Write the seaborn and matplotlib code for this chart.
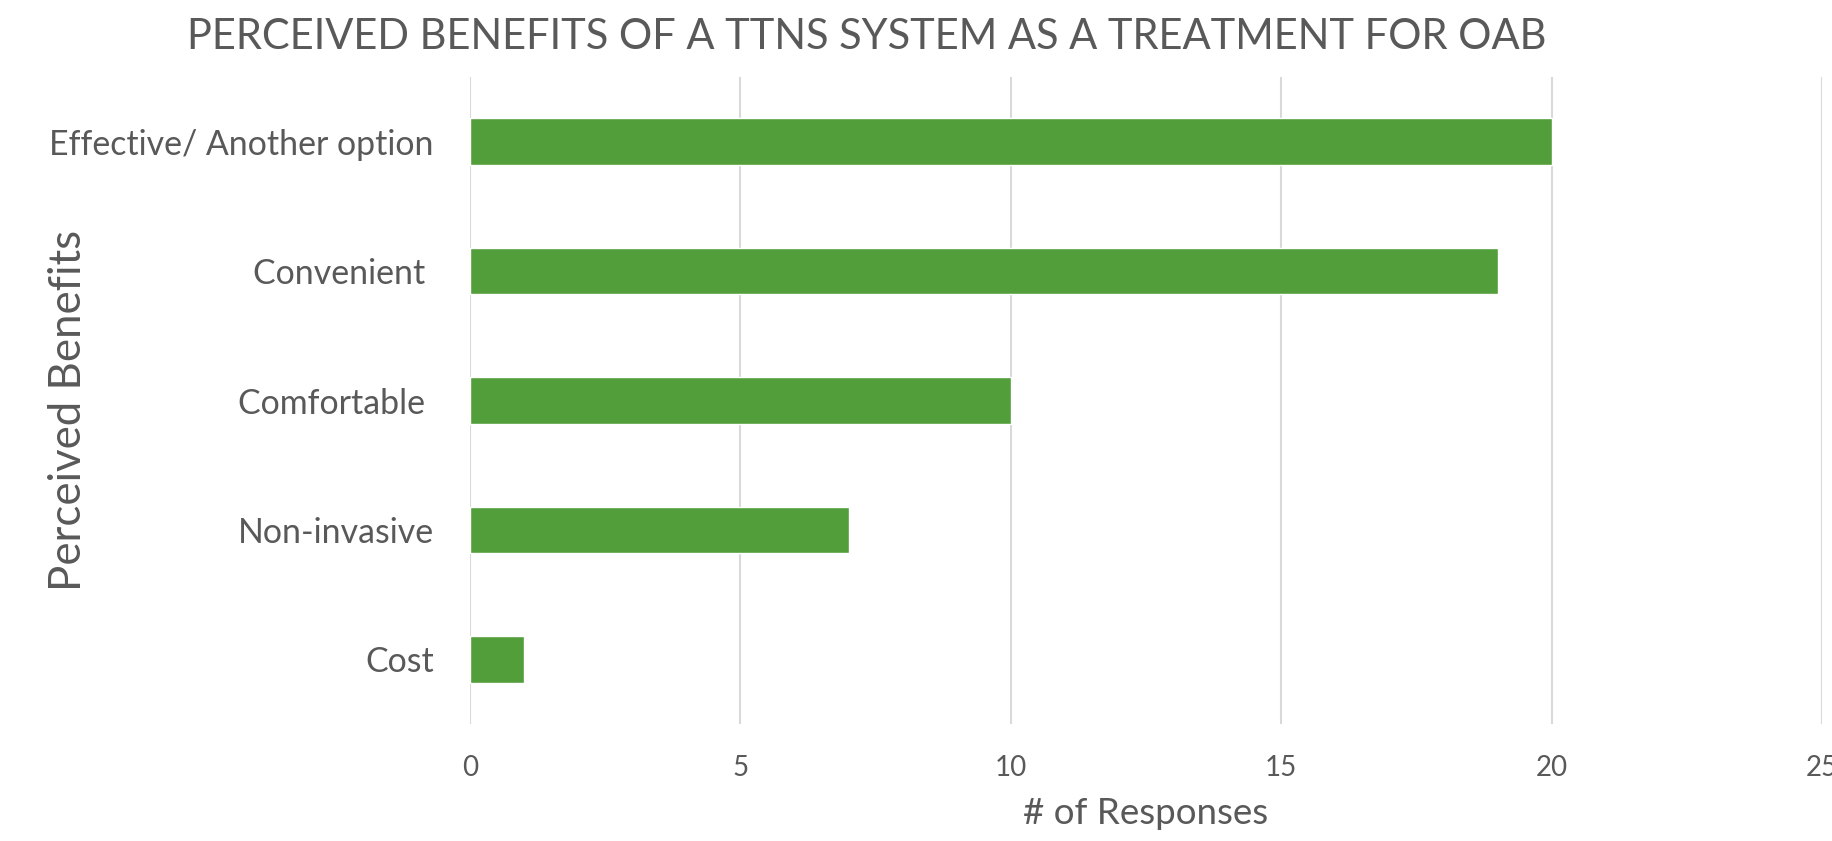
import matplotlib
matplotlib.use("Agg")
import matplotlib.pyplot as plt
import seaborn as sns
import pandas as pd

categories = ["Effective/ Another option", "Convenient ", "Comfortable ", "Non-invasive", "Cost"]
responses = [20, 19, 10, 7, 1]
x_ticks = [0, 5, 10, 15, 20, 25]

title = "PERCEIVED BENEFITS OF A TTNS SYSTEM AS A TREATMENT FOR OAB"
x_label = "# of Responses"
y_label = "Perceived Benefits"

sns.set_theme(style="white")
plt.rcParams['font.family'] = ['Lato', 'DejaVu Sans']
text_color = "#595959"

df = pd.DataFrame({"Benefit": categories, "Responses": responses})

fig = plt.figure(figsize=(18.33, 8.41), dpi=100)
ax = fig.add_axes([0.2564, 0.1391, 0.994 - 0.2564, 0.9084 - 0.1391])

sns.barplot(data=df, y="Benefit", x="Responses", color="#529E3A",
            width=0.36, ax=ax, zorder=3, saturation=1)

ax.set_xlim(0, 25)
ax.set_xticks(x_ticks)
ax.set_xticklabels([str(t) for t in x_ticks])
ax.grid(axis="x", color="#D9D9D9", linewidth=1.5, zorder=0)
ax.grid(axis="y", visible=False)
for s in ax.spines.values():
    s.set_visible(False)
ax.tick_params(axis="both", length=0, colors=text_color)
ax.tick_params(axis="x", labelsize=20, pad=22)
ax.tick_params(axis="y", labelsize=24.4, pad=26)
ax.set_axisbelow(True)

ax.set_xlabel(x_label, fontsize=26.5, color=text_color, labelpad=12)
ax.set_ylabel(y_label, fontsize=31.5, color=text_color, va="center")
ax.yaxis.set_label_coords(-0.2973, 0.485)

fig.text(0.4727, 0.956, title, ha="center", va="center", fontsize=30, color=text_color)

fig.savefig("out.png", dpi=100)
